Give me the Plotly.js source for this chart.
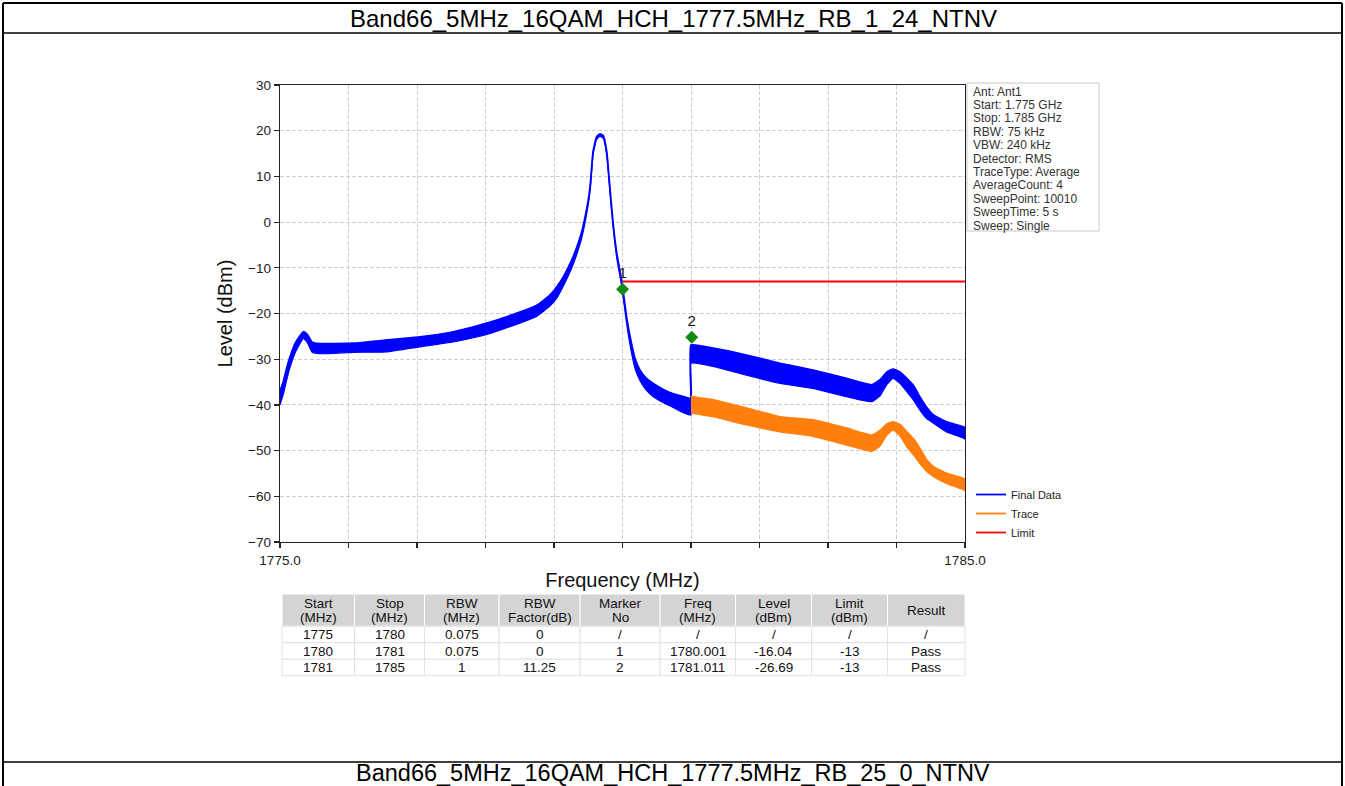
<!DOCTYPE html>
<html><head><meta charset="utf-8">
<script src="https://cdn.plot.ly/plotly-3.0.1.min.js"></script>
<style>html,body{margin:0;padding:0;background:#fff;overflow:hidden}#chart{width:1345px;height:786px}</style>
</head><body><div id="chart"></div>
<script>
// ---------------- data ----------------
const pageTitle = 'Band66_5MHz_16QAM_HCH_1777.5MHz_RB_1_24_NTNV';
const nextTitle = 'Band66_5MHz_16QAM_HCH_1777.5MHz_RB_25_0_NTNV';

// Final Data: frequency (MHz) and upper / lower edge of the noisy band (dBm)
const finalFreq = [1775.00,1775.05,1775.10,1775.15,1775.23,1775.34,1775.40,1775.47,1775.58,1776.07,1776.56,1777.04,1777.53,1778.02,1778.50,1778.75,1778.94,1779.05,1779.15,1779.25,1779.33,1779.40,1779.45,1779.50,1779.53,1779.57,1779.62,1779.67,1779.72,1779.77,1779.82,1779.87,1779.92,1779.99,1780.06,1780.13,1780.19,1780.26,1780.35,1780.45,1780.57,1780.69,1780.82,1780.94,1781.00,1781.00,1781.32,1781.81,1782.30,1782.78,1783.27,1783.64,1783.76,1783.86,1783.95,1784.05,1784.15,1784.25,1784.34,1784.44,1784.54,1784.73,1784.98,1785.00];
const finalUpper = [-37.0,-34.8,-31.8,-29.3,-26.3,-24.0,-24.6,-26.3,-26.6,-26.5,-25.8,-25.1,-24.0,-22.1,-19.7,-18.2,-16.0,-14.0,-11.6,-8.6,-5.6,-2.4,0.8,4.8,8.2,15.4,18.6,19.3,18.9,15.4,6.8,-1.3,-7.2,-13.0,-20.8,-26.5,-30.2,-32.5,-34.2,-35.3,-36.4,-37.3,-37.9,-38.4,-38.6,-26.9,-27.6,-29.1,-30.9,-32.4,-34.2,-35.6,-34.5,-32.8,-32.2,-32.8,-34.2,-35.8,-38.2,-40.5,-42.2,-43.7,-44.8,-45.0];
const finalLower = [-40.0,-37.6,-34.4,-31.6,-28.3,-25.5,-26.4,-28.5,-28.8,-28.5,-28.4,-27.3,-26.2,-24.6,-22.1,-20.6,-18.4,-16.4,-13.6,-10.4,-7.2,-3.8,-0.4,3.8,7.2,14.6,18.0,18.8,18.3,14.6,5.9,-2.2,-8.2,-14.2,-22.2,-28.5,-32.4,-34.8,-36.8,-38.2,-39.3,-40.2,-41.2,-42.0,-42.2,-30.9,-31.6,-33.5,-35.3,-36.4,-38.2,-39.3,-38.0,-35.5,-34.2,-35.3,-37.1,-39.0,-41.1,-43.0,-44.0,-45.9,-47.3,-47.5];

// Trace (raw trace, visible from 1781 MHz)
const traceFreq  = [1781.00,1781.32,1781.81,1782.30,1782.78,1783.27,1783.64,1783.76,1783.86,1783.95,1784.05,1784.15,1784.25,1784.34,1784.44,1784.54,1784.73,1784.98,1785.00];
const traceUpper = [-38.2,-38.9,-40.7,-42.6,-43.3,-45.1,-46.6,-45.6,-44.2,-43.7,-44.3,-45.9,-47.5,-49.5,-52.0,-53.5,-55.0,-56.1,-56.3];
const traceLower = [-41.8,-42.6,-44.4,-45.9,-46.9,-48.8,-50.2,-49.0,-46.6,-45.5,-46.8,-49.2,-51.0,-52.8,-54.6,-55.7,-57.2,-58.6,-58.8];

// Limit line
const limitFreq  = [1780, 1785];
const limitLevel = [-13, -13];

// Markers as drawn on the plot
const markerNo    = ['1', '2'];
const markerFreq  = [1780.001, 1781.011];
const markerLevel = [-14.7, -25.2];

// Axis ticks
const xTickVals = [1775,1776,1777,1778,1779,1780,1781,1782,1783,1784,1785];
const xTickText = ['1775.0','','','','','','','','','','1785.0'];
const yTickVals = [-70,-60,-50,-40,-30,-20,-10,0,10,20,30];

// Instrument info box
const infoLines = ['Ant: Ant1','Start: 1.775 GHz','Stop: 1.785 GHz','RBW: 75 kHz','VBW: 240 kHz','Detector: RMS','TraceType: Average','AverageCount: 4','SweepPoint: 10010','SweepTime: 5 s','Sweep: Single'];

// Result table
const tableHeader = [['Start','(MHz)'],['Stop','(MHz)'],['RBW','(MHz)'],['RBW','Factor(dB)'],['Marker','No'],['Freq','(MHz)'],['Level','(dBm)'],['Limit','(dBm)'],['Result']];
const tableRows = [
  ['1775','1780','0.075','0','/','/','/','/','/'],
  ['1780','1781','0.075','0','1','1780.001','-16.04','-13','Pass'],
  ['1781','1785','1','11.25','2','1781.011','-26.69','-13','Pass']
];

// ---------------- layout helpers ----------------
const W = 1345, H = 786;
const PL = 280, PR = 965, PT = 85, PB = 542;          // plot area in px
const pxX = x => (x - PL) / (PR - PL);
const py = y => (PB - y) / (PB - PT);
const FONT = 'Liberation Sans, Arial, sans-serif';
const NARROW = 'Liberation Sans Narrow, Arial Narrow, Liberation Sans, Arial, sans-serif';

const BLUE = '#0000ff', ORANGE = '#ff7f0e', RED = '#ff0000', GREEN = '#138a13';

const traces = [
  {x: finalFreq, y: finalUpper, type: 'scatter', mode: 'lines', name: 'Final Data',
   line: {color: BLUE, width: 1.8, shape: 'spline', smoothing: 0.4}, legendgroup: 'fd', hoverinfo: 'skip'},
  {x: finalFreq, y: finalLower, type: 'scatter', mode: 'lines', name: 'Final Data',
   line: {color: BLUE, width: 1.2, shape: 'spline', smoothing: 0.4}, fill: 'tonexty', fillcolor: BLUE, legendgroup: 'fd', showlegend: false, hoverinfo: 'skip'},
  {x: traceFreq, y: traceUpper, type: 'scatter', mode: 'lines', name: 'Trace',
   line: {color: ORANGE, width: 1.8, shape: 'spline', smoothing: 0.4}, legendgroup: 'tr', hoverinfo: 'skip'},
  {x: traceFreq, y: traceLower, type: 'scatter', mode: 'lines', name: 'Trace',
   line: {color: ORANGE, width: 1.2, shape: 'spline', smoothing: 0.4}, fill: 'tonexty', fillcolor: ORANGE, legendgroup: 'tr', showlegend: false, hoverinfo: 'skip'},
  {x: limitFreq, y: limitLevel, type: 'scatter', mode: 'lines', name: 'Limit',
   line: {color: RED, width: 1.8}},
  {x: markerFreq, y: markerLevel, type: 'scatter', mode: 'markers+text', text: markerNo,
   textposition: 'top center', textfont: {family: FONT, size: 15, color: '#111'},
   marker: {symbol: 'diamond', size: 10, color: GREEN}, showlegend: false, cliponaxis: false}
];

const shapes = [];
const annotations = [];

// page frame
const frameLine = {color: '#000', width: 2};
shapes.push({type: 'line', xref: 'paper', yref: 'paper', x0: pxX(3), x1: pxX(3), y0: py(3), y1: py(786), line: frameLine});
shapes.push({type: 'line', xref: 'paper', yref: 'paper', x0: pxX(1342), x1: pxX(1342), y0: py(3), y1: py(786), line: frameLine});
shapes.push({type: 'line', xref: 'paper', yref: 'paper', x0: pxX(3), x1: pxX(1342), y0: py(3), y1: py(3), line: frameLine});
shapes.push({type: 'line', xref: 'paper', yref: 'paper', x0: pxX(3), x1: pxX(1342), y0: py(33), y1: py(33), line: {color: '#000', width: 1.5}});
shapes.push({type: 'line', xref: 'paper', yref: 'paper', x0: pxX(3), x1: pxX(1342), y0: py(762), y1: py(762), line: {color: '#000', width: 1.5}});

annotations.push({xref: 'paper', yref: 'paper', x: pxX(673), y: py(19), text: pageTitle, showarrow: false,
  xanchor: 'center', yanchor: 'middle', font: {family: FONT, size: 24, color: '#000'}});
annotations.push({xref: 'paper', yref: 'paper', x: pxX(673), y: py(772.5), text: nextTitle, showarrow: false,
  xanchor: 'center', yanchor: 'middle', font: {family: FONT, size: 23.5, color: '#000'}});

// info box
shapes.push({type: 'rect', xref: 'paper', yref: 'paper', x0: pxX(967), x1: pxX(1099), y0: py(83), y1: py(231),
  line: {color: '#c8c8c8', width: 1}, fillcolor: '#fff'});
infoLines.forEach((t, i) => {
  annotations.push({xref: 'paper', yref: 'paper', x: pxX(971), y: py(91.5 + i * 13.4), text: t, showarrow: false,
    xanchor: 'left', yanchor: 'middle', font: {family: FONT, size: 12, color: '#333'}});
});

// table
const colEdges = [282, 354.5, 424.5, 499, 580, 660, 735.5, 811.5, 887.5, 965];
const headTop = 594, headBot = 626.25, rowH = 16.5;
for (let c = 0; c < tableHeader.length; c++) {
  const x0 = colEdges[c], x1 = colEdges[c + 1], xc = (x0 + x1) / 2;
  shapes.push({type: 'rect', xref: 'paper', yref: 'paper', x0: pxX(x0), x1: pxX(x1), y0: py(headTop), y1: py(headBot),
    fillcolor: '#d4d4d4', line: {color: '#ffffff', width: 1}});
  const hl = tableHeader[c];
  if (hl.length === 2) {
    annotations.push({xref: 'paper', yref: 'paper', x: pxX(xc), y: py(603), text: hl[0], showarrow: false,
      xanchor: 'center', yanchor: 'middle', font: {family: NARROW, size: 13.5, color: '#111'}});
    annotations.push({xref: 'paper', yref: 'paper', x: pxX(xc), y: py(617.5), text: hl[1], showarrow: false,
      xanchor: 'center', yanchor: 'middle', font: {family: NARROW, size: 13.5, color: '#111'}});
  } else {
    annotations.push({xref: 'paper', yref: 'paper', x: pxX(xc), y: py(610), text: hl[0], showarrow: false,
      xanchor: 'center', yanchor: 'middle', font: {family: NARROW, size: 13.5, color: '#111'}});
  }
  tableRows.forEach((row, r) => {
    const y0 = headBot + r * rowH, y1 = y0 + rowH;
    shapes.push({type: 'rect', xref: 'paper', yref: 'paper', x0: pxX(x0), x1: pxX(x1), y0: py(y0), y1: py(y1),
      fillcolor: '#ffffff', line: {color: '#e2e2e2', width: 1}});
    annotations.push({xref: 'paper', yref: 'paper', x: pxX(xc), y: py((y0 + y1) / 2), text: row[c], showarrow: false,
      xanchor: 'center', yanchor: 'middle', font: {family: NARROW, size: 13.5, color: '#111'}});
  });
}

const axisCommon = {
  showline: true, linecolor: '#222', linewidth: 1.3, mirror: true,
  ticks: 'outside', ticklen: 5, tickwidth: 1.2, tickcolor: '#222',
  showgrid: true, gridcolor: '#cfcfcf', gridwidth: 1, griddash: '4px,2px',
  zeroline: false, tickfont: {family: FONT, size: 13.5, color: '#222'}
};

const layout = {
  width: W, height: H,
  margin: {l: PL, r: W - PR, t: PT, b: H - PB, pad: 0},
  paper_bgcolor: '#fff', plot_bgcolor: '#fff',
  font: {family: FONT, color: '#222'},
  showlegend: true,
  legend: {x: pxX(971), y: py(480), xanchor: 'left', yanchor: 'top', bgcolor: 'rgba(255,255,255,0.9)',
    borderwidth: 0, font: {family: FONT, size: 11, color: '#222'}, tracegroupgap: 0, itemwidth: 30},
  xaxis: Object.assign({}, axisCommon, {range: [1775, 1785], tickmode: 'array', tickvals: xTickVals, ticktext: xTickText,
    title: {text: 'Frequency (MHz)', font: {family: FONT, size: 20, color: '#111'}, standoff: 6}}),
  yaxis: Object.assign({}, axisCommon, {range: [-70, 30], tickmode: 'array', tickvals: yTickVals,
    title: {text: 'Level (dBm)', font: {family: FONT, size: 20, color: '#111'}, standoff: 10}}),
  shapes: shapes,
  annotations: annotations
};

Plotly.newPlot('chart', traces, layout, {displayModeBar: false, staticPlot: true});
</script>
</body></html>
